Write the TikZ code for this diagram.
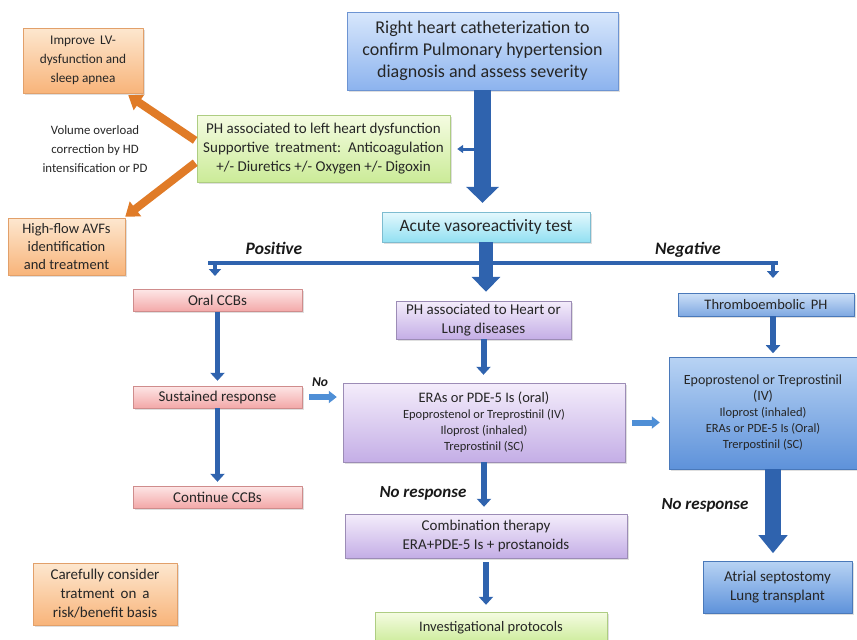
\documentclass[tikz,border=0pt]{standalone}
\usepackage{fontspec}
\setmainfont{Carlito}
\usetikzlibrary{arrows.meta,shadows}
\definecolor{rhcTop}{HTML}{D8E7FC}\definecolor{rhcBot}{HTML}{8CB3EE}\definecolor{rhcLine}{HTML}{6D94D2}
\definecolor{orTop}{HTML}{FDE7CF}\definecolor{orBot}{HTML}{F8B47A}\definecolor{orLine}{HTML}{E2A06A}
\definecolor{grTop}{HTML}{F5FCE2}\definecolor{grBot}{HTML}{CBEB98}\definecolor{grLine}{HTML}{AECD82}
\definecolor{cyTop}{HTML}{E4F8FD}\definecolor{cyBot}{HTML}{92E0F2}\definecolor{cyLine}{HTML}{7DBCD0}
\definecolor{pkTop}{HTML}{FDE6E6}\definecolor{pkBot}{HTML}{F3A8A8}\definecolor{pkLine}{HTML}{CF8C8C}
\definecolor{puTop}{HTML}{F4EDFB}\definecolor{puBot}{HTML}{C4AEE6}\definecolor{puLine}{HTML}{9C8CB6}
\definecolor{bdTop}{HTML}{B8D3F4}\definecolor{bdBot}{HTML}{5E92DA}\definecolor{bdLine}{HTML}{4A79BA}
\definecolor{arBlue}{HTML}{2F63AE}\definecolor{arOrange}{HTML}{E07B27}\definecolor{noBlue}{HTML}{4F8FD6}
\begin{document}
\begin{tikzpicture}[x=1pt,y=-1pt, line join=round,
	box/.style={draw, rectangle, align=center, inner sep=1pt, text=black!85,
		drop shadow={shadow xshift=1.5pt,shadow yshift=-1.5pt,opacity=0.25}},
	orbox/.style={box, top color=orTop, bottom color=orBot, draw=orLine},
	pkbox/.style={box, top color=pkTop, bottom color=pkBot, draw=pkLine, minimum width=169pt, minimum height=22pt, font=\fontsize{15}{17}\selectfont},
	pubox/.style={box, top color=puTop, bottom color=puBot, draw=puLine},
	bdbox/.style={box, top color=bdTop, bottom color=bdBot, draw=bdLine},
	lbl/.style={text=black!90, font=\fontsize{17.5}{17.5}\selectfont\bfseries\itshape},
	bigarrow/.style={draw=arBlue, line width=17pt, -{Triangle[length=16pt,width=32pt]}},
	midarrow/.style={draw=arBlue, line width=6pt, -{Triangle[length=8pt,width=14pt]}},
	droparrow/.style={draw=arBlue, line width=4pt, -{Triangle[length=7pt,width=12pt]}},
	noarrow/.style={draw=noBlue, line width=6pt, -{Triangle[length=8pt,width=12pt]}},
	orarrow/.style={draw=arOrange, line width=8pt, -{Triangle[length=13pt,width=18pt]}}]
	\clip (0,0) rectangle (857,640);
	
	% boxes
	\node[box, top color=rhcTop, bottom color=rhcBot, draw=rhcLine, minimum width=271pt, minimum height=78pt, font=\fontsize{18}{22}\selectfont] (rhc) at (482.5,51) {Right heart catheterization to\\confirm Pulmonary hypertension\\diagnosis and assess severity};
	\node[orbox, minimum width=120pt, minimum height=65pt, font=\fontsize{13.3}{19}\selectfont] (lv) at (83,60.5) {Improve \,LV-\\dysfunction and\\sleep apnea};
	\node[orbox, minimum width=117pt, minimum height=57pt, font=\fontsize{14.5}{18}\selectfont] (avf) at (66.5,246.5) {High-flow AVFs\\identification\\and treatment};
	\node[box, top color=grTop, bottom color=grBot, draw=grLine, minimum width=253pt, minimum height=67pt, font=\fontsize{15}{19}\selectfont] (lhd) at (323.5,148.5) {PH associated to left heart dysfunction\\Supportive \,treatment: \,Anticoagulation\\+/- Diuretics +/- Oxygen +/- Digoxin};
	\node[align=center, text=black!85, font=\fontsize{12.8}{19}\selectfont] (vol) at (95,149) {Volume overload\\correction by HD\\intensification or PD};
	\node[box, top color=cyTop, bottom color=cyBot, draw=cyLine, minimum width=208pt, minimum height=30pt, font=\fontsize{17.4}{19}\selectfont] (avt) at (486,227) {Acute vasoreactivity test};
	\node[pkbox] (oral) at (217.5,300.5) {Oral CCBs};
	\node[pkbox] (sus) at (217.5,397) {Sustained response};
	\node[pkbox] (cont) at (217.5,497) {Continue CCBs};
	\node[pubox, minimum width=175pt, minimum height=38pt, font=\fontsize{15}{19}\selectfont] (hl) at (483.5,320) {PH associated to Heart or\\Lung diseases};
	\node[pubox, minimum width=282pt, minimum height=79pt, font=\fontsize{12.5}{16}\selectfont] (era) at (484,422.5) {{\fontsize{14.5}{17}\selectfont ERAs or PDE-5 Is (oral)}\\Epoprostenol or Treprostinil (IV)\\Iloprost (inhaled)\\Treprostinil (SC)};
	\node[pubox, minimum width=282pt, minimum height=44pt, font=\fontsize{15}{19}\selectfont] (comb) at (486,536) {Combination therapy\\ERA+PDE-5 Is + prostanoids};
	\node[box, top color=grTop, bottom color=grBot, draw=grLine, minimum width=232pt, minimum height=32pt, font=\fontsize{14.5}{17}\selectfont] (inv) at (491,628) {Investigational protocols};
	\node[orbox, minimum width=144pt, minimum height=62pt, font=\fontsize{15}{19}\selectfont] (care) at (105,594) {Carefully consider\\tratment \,on \,a\\risk/benefit basis};
	\node[bdbox, top color=bdTop!70, bottom color=bdBot!80, minimum width=176pt, minimum height=23pt, font=\fontsize{14.5}{17}\selectfont] (thr) at (766,304.5) {Thromboembolic \,PH};
	\node[bdbox, minimum width=188pt, minimum height=112pt, font=\fontsize{12.5}{16}\selectfont] (epo) at (763,413) {{\fontsize{14}{16}\selectfont Epoprostenol or Treprostinil}\\{\fontsize{14}{16}\selectfont (IV)}\\Iloprost (inhaled)\\ERAs or PDE-5 Is (Oral)\\Trerpostinil (SC)};
	\node[bdbox, minimum width=149pt, minimum height=52pt, font=\fontsize{15}{19}\selectfont] (atr) at (777.5,587) {Atrial septostomy\\Lung transplant};
	
	% labels
	\node[lbl] (pos) at (274,248) {Positive};
	\node[lbl] (neg) at (688,250) {Negative};
	\node[lbl, font=\fontsize{13.5}{13.5}\selectfont\bfseries\itshape] (no) at (320,382) {No};
	\node[lbl, font=\fontsize{17}{17}\selectfont\bfseries\itshape] (nrA) at (423,493) {No response};
	\node[lbl, font=\fontsize{17}{17}\selectfont\bfseries\itshape] (nrB) at (705,505) {No response};
	
	% arrows
	\draw[bigarrow, shorten >=9pt] (rhc.south) -- (rhc.south |- avt.north);
	\coordinate (tap) at (476,149);
	\draw[draw=arBlue, line width=3pt, -{Triangle[length=6pt,width=8pt]}, shorten >=7pt] (tap) -- (tap -| lhd.east);
	\draw[orarrow, shorten <=2pt] ([yshift=7pt]lhd.west) -- ([xshift=-15pt,yshift=-2pt]lv.south east);
	\draw[orarrow, shorten <=2pt] ([yshift=-13pt]lhd.west) -- ([yshift=1pt]avf.north east);
	\draw[bigarrow, line width=14pt, -{Triangle[length=15pt,width=28pt]}, shorten >=9pt] (avt.south) -- (avt.south |- hl.north);
	\coordinate (barL) at (208,263);
	\coordinate (barR) at (778,263);
	\draw[draw=arBlue, line width=4pt] (barL) -- (barR);
	\draw[droparrow] ([xshift=7pt]barL) -- ++(0,13);
	\draw[droparrow] ([xshift=-5pt]barR) -- ++(0,15);
	\draw[midarrow, line width=5pt, shorten >=5pt] (oral.south) -- (sus.north);
	\draw[midarrow, line width=5pt, shorten >=4pt] (sus.south) -- (cont.north);
	\draw[midarrow, shorten >=8pt] (hl.south) -- (hl.south |- era.north);
	\draw[midarrow, shorten >=7pt] (era.south) -- (era.south |- comb.north);
	\draw[midarrow, shorten <=4pt, shorten >=7pt] (comb.south) -- (comb.south |- inv.north);
	\draw[midarrow] ([xshift=7pt]thr.south) -- ++(0,37);
	\draw[bigarrow, line width=16pt, -{Triangle[length=18pt,width=28pt]}] ([xshift=10pt]epo.south) -- ++(0,84);
	\draw[noarrow, shorten <=7pt, shorten >=6pt] (sus.east) -- (sus.east -| era.west);
	\draw[noarrow, shorten <=7pt, shorten >=9pt] (era.east) -- (era.east -| epo.west);
\end{tikzpicture}
\end{document}
